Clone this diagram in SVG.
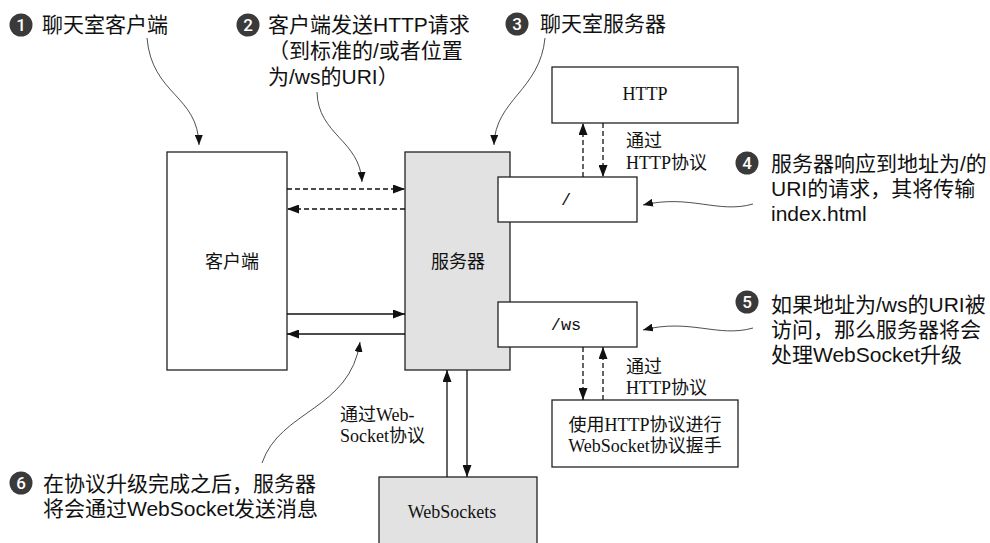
<svg xmlns="http://www.w3.org/2000/svg" width="990" height="543" viewBox="0 0 990 543">
<style>
.box{fill:#ffffff;stroke:#222;stroke-width:1.3}
.gbox{fill:#e2e2e2;stroke:#222;stroke-width:1.3}
.lbl{font-family:"Liberation Serif","Noto Sans CJK SC",serif;font-size:18px;fill:#111}
.mono{font-family:"Liberation Mono",monospace;font-size:17px;fill:#111}
.co{font-family:"Liberation Sans","Noto Sans CJK SC",sans-serif;font-size:21px;fill:#111}
.num{font-family:"Roboto","Liberation Sans",sans-serif;font-size:17px;fill:#fff;font-weight:500}
.dot{fill:#3a3a3a}
.ln{fill:none;stroke:#111;stroke-width:1.3}
.dash{stroke-dasharray:5 3}
.cv{fill:none;stroke:#222;stroke-width:0.8}
</style>
<defs>
<marker id="ah" markerUnits="userSpaceOnUse" markerWidth="12" markerHeight="9" refX="12" refY="4.5" orient="auto">
<path d="M0,0 L12,4.5 L0,9 z" fill="#111"/>
</marker>
<marker id="sh" markerUnits="userSpaceOnUse" markerWidth="10" markerHeight="8" refX="10" refY="4" orient="auto">
<path d="M0,0 L10,4 L0,8 z" fill="#111"/>
</marker>
</defs>
<rect width="990" height="543" fill="#ffffff"/>

<g id="client">
<rect class="box" x="167" y="152" width="120" height="218"/>
<text class="lbl" x="232" y="268" text-anchor="middle">客户端</text>
</g>
<g id="server">
<rect class="gbox" x="405" y="152" width="105" height="218"/>
<text class="lbl" x="458" y="268" text-anchor="middle">服务器</text>
</g>
<g id="http">
<rect class="box" x="552" y="67" width="186" height="56"/>
<text class="lbl" x="645" y="100" text-anchor="middle">HTTP</text>
</g>
<g id="root">
<rect class="box" x="498" y="177" width="139" height="45"/>
<text class="mono" x="566" y="205" text-anchor="middle">/</text>
</g>
<g id="ws">
<rect class="box" x="498" y="302" width="139" height="45"/>
<text class="mono" x="566" y="330" text-anchor="middle">/ws</text>
</g>
<g id="handshake">
<rect class="box" x="552" y="400" width="186" height="67"/>
<text class="lbl" x="645" y="431" text-anchor="middle">使用HTTP协议进行</text>
<text class="lbl" x="645" y="452" text-anchor="middle">WebSocket协议握手</text>
</g>
<g id="websockets">
<rect class="gbox" x="379" y="477" width="158" height="80"/>
<text class="lbl" x="452" y="518" text-anchor="middle">WebSockets</text>
</g>

<g id="connectors">
<line class="ln dash" x1="287" y1="189" x2="405" y2="189" marker-end="url(#ah)"/>
<line class="ln dash" x1="405" y1="209" x2="287" y2="209" marker-end="url(#ah)"/>
<line class="ln" x1="287" y1="314" x2="405" y2="314" marker-end="url(#ah)"/>
<line class="ln" x1="405" y1="334" x2="287" y2="334" marker-end="url(#ah)"/>
<line class="ln" x1="447" y1="477" x2="447" y2="370" marker-end="url(#ah)"/>
<line class="ln" x1="467" y1="370" x2="467" y2="477" marker-end="url(#ah)"/>
<line class="ln dash" x1="583" y1="177" x2="583" y2="123" marker-end="url(#ah)"/>
<line class="ln dash" x1="603" y1="123" x2="603" y2="177" marker-end="url(#ah)"/>
<line class="ln dash" x1="583" y1="347" x2="583" y2="400" marker-end="url(#ah)"/>
<line class="ln dash" x1="603" y1="400" x2="603" y2="347" marker-end="url(#ah)"/>
</g>

<g id="edge-labels">
<text class="lbl" x="626" y="147">通过</text>
<text class="lbl" x="626" y="169">HTTP协议</text>
<text class="lbl" x="626" y="373">通过</text>
<text class="lbl" x="626" y="394">HTTP协议</text>
<text class="lbl" x="340" y="421">通过Web-</text>
<text class="lbl" x="340" y="442">Socket协议</text>
</g>

<g id="callout-lines">
<path class="cv" d="M147,38 C152,95 198,95 199,145" marker-end="url(#sh)"/>
<path class="cv" d="M317,92 C318,135 360,140 362,182" marker-end="url(#sh)"/>
<path class="cv" d="M545,38 C540,90 495,100 494,145" marker-end="url(#sh)"/>
<path class="cv" d="M753,204 C718,214 690,194 643,205" marker-end="url(#sh)"/>
<path class="cv" d="M753,328 C718,338 690,318 643,330" marker-end="url(#sh)"/>
<path class="cv" d="M262,463 C280,410 350,410 360,342" marker-end="url(#sh)"/>
</g>

<g id="callout1">
<circle class="dot" cx="21" cy="25" r="11.5"/>
<text class="num" x="21" y="31" text-anchor="middle">1</text>
<text class="co" x="42" y="32">聊天室客户端</text>
</g>
<g id="callout2">
<circle class="dot" cx="248" cy="25" r="11.5"/>
<text class="num" x="248" y="31" text-anchor="middle">2</text>
<text class="co" x="268" y="32">客户端发送HTTP请求</text>
<text class="co" x="268" y="58">（到标准的/或者位置</text>
<text class="co" x="268" y="84">为/ws的URI）</text>
</g>
<g id="callout3">
<circle class="dot" cx="517" cy="24" r="11.5"/>
<text class="num" x="517" y="30" text-anchor="middle">3</text>
<text class="co" x="540" y="31">聊天室服务器</text>
</g>
<g id="callout4">
<circle class="dot" cx="747" cy="163" r="11.5"/>
<text class="num" x="747" y="169" text-anchor="middle">4</text>
<text class="co" x="771" y="171">服务器响应到地址为/的</text>
<text class="co" x="771" y="196">URI的请求，其将传输</text>
<text class="co" x="771" y="221">index.html</text>
</g>
<g id="callout5">
<circle class="dot" cx="747" cy="302" r="11.5"/>
<text class="num" x="747" y="308" text-anchor="middle">5</text>
<text class="co" x="771" y="312">如果地址为/ws的URI被</text>
<text class="co" x="771" y="337">访问，那么服务器将会</text>
<text class="co" x="771" y="362">处理WebSocket升级</text>
</g>
<g id="callout6">
<circle class="dot" cx="21" cy="483" r="11.5"/>
<text class="num" x="21" y="489" text-anchor="middle">6</text>
<text class="co" x="43" y="491">在协议升级完成之后，服务器</text>
<text class="co" x="43" y="516">将会通过WebSocket发送消息</text>
</g>
</svg>
